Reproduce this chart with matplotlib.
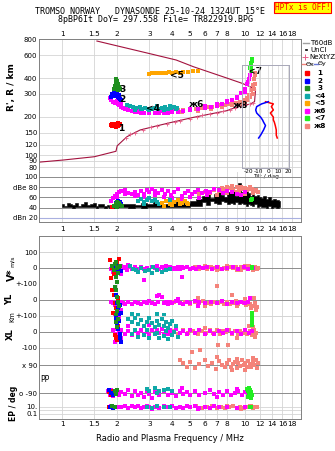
import matplotlib
matplotlib.use("Agg")
import matplotlib.pyplot as plt
from matplotlib.lines import Line2D
from matplotlib.ticker import NullLocator

W, H = 335, 451

FREQ_TICKS = [1, 1.5, 2, 3, 4, 5, 6, 7, 8, 10, 12, 14, 16, 18]
FREQ_TICKS_MID = [1, 1.5, 2, 3, 4, 5, 6, 7, 8, 9, 10, 12, 14, 16, 18]
HEIGHT_TICKS = [80, 90, 100, 120, 150, 200, 300, 400, 600, 800]
DB_TICKS = [20, 40, 60, 80, 100]
DB_LABELS = ["dBn 20", "40", "60", "dBe 80", "100"]
TILT_TICKS = [-20, -10, 0, 10, 20]

# colours of the echo traces 1..8
C1, C2, C3, C4 = "#ff0000", "#0000ff", "#1f8f1f", "#10a8a8"
C5, C6, C7, C8 = "#ffa500", "#ff00ff", "#22ee22", "#f4837a"
PROFILE_COLOR = "#a3123e"
NEXT_COLOR = "#e8608a"
TRACE_TAGS = ["1", "2", "3", "<4", "<5", "ж6", "<7", "ж8"]
TAG_POS = [(2.1, 162), (2.14, 272), (2.15, 326), (3.15, 232), (4.24, 416),
           (5.44, 248), (11.3, 450), (9.4, 246)]

# real height profile (f MHz, h km)
PROFILE_LOW = [(0.75, 88), (1.02, 91.5), (1.5, 97), (1.97, 107), (2.0, 118),
               (2.26, 139), (2.67, 157), (3.29, 169), (3.89, 179), (5.22, 197),
               (7.93, 222), (9.39, 242), (10.65, 250), (11.26, 261), (11.4, 322)]
PROFILE_HIGH = [(1.55, 778), (2.0, 713), (3.0, 621), (4.2, 553), (5.22, 490),
                (7.93, 400), (9.6, 364), (10.65, 342), (11.2, 328)]
NEXT_PTS = [(2.24, 137), (2.35, 145), (2.5, 150), (2.77, 158), (3.05, 165),
            (3.3, 170), (3.75, 176), (4.14, 181), (4.42, 185), (5.0, 193),
            (5.46, 200), (5.82, 205), (6.44, 211), (7.0, 215), (7.6, 219),
            (8.3, 226), (8.8, 232), (9.4, 242), (10.0, 246), (10.65, 250), (11.1, 256)]

# virtual height traces
T1_H = [(1.84, 172), (1.87, 174), (1.9, 171), (1.92, 176), (1.95, 173), (1.97, 170),
        (2.0, 175), (2.02, 178), (2.05, 172), (2.08, 176), (1.88, 168), (1.93, 169),
        (1.98, 167), (2.03, 170), (2.06, 174)]
T2_H = [(1.86, 285), (1.88, 300), (1.92, 305), (1.95, 290), (1.97, 310), (2.0, 300),
        (2.02, 285), (2.05, 295), (2.08, 275), (2.1, 268), (1.9, 292), (1.99, 320), (2.04, 280)]
T3_H = [(1.93, 330), (1.96, 350), (1.98, 365), (2.0, 380), (2.02, 360), (2.04, 340),
        (1.97, 395), (2.01, 320), (2.06, 330), (1.95, 345)]
T4_H = [(2.25, 245), (2.35, 240), (2.45, 238), (2.55, 232), (2.65, 236), (2.75, 230),
        (2.85, 234), (2.95, 228), (3.1, 230), (3.2, 235), (3.35, 228), (3.5, 232),
        (3.65, 236), (3.8, 230), (3.95, 234), (4.1, 238), (4.25, 232), (2.5, 226),
        (2.7, 228), (3.0, 224), (3.3, 240), (3.6, 226), (3.9, 242), (4.2, 228)]
T5_H = [(3.0, 432), (3.1, 435), (3.2, 438), (3.3, 436), (3.4, 440), (3.5, 437),
        (3.6, 441), (3.7, 438), (3.85, 442), (4.0, 440), (4.2, 444), (4.4, 441),
        (4.6, 446), (4.9, 444), (5.2, 450), (5.5, 452)]
T6_H = [(1.82, 280), (1.85, 270), (1.87, 290), (1.9, 262), (1.95, 255), (2.0, 265),
        (2.02, 250), (2.05, 245), (2.1, 238), (2.15, 232), (2.2, 228), (2.3, 224),
        (2.4, 220), (2.5, 218), (2.6, 216), (2.7, 215), (2.8, 214), (3.0, 213),
        (3.2, 213), (3.4, 214), (3.6, 214), (3.8, 215), (4.0, 216), (4.3, 218),
        (4.6, 220), (5.0, 223), (5.5, 228), (6.0, 233), (6.5, 238), (7.0, 243),
        (7.5, 249), (8.0, 258), (8.5, 270), (9.0, 285), (9.5, 305), (10.0, 330),
        (10.3, 360), (10.5, 390), (10.7, 420), (10.8, 450), (2.1, 250), (2.3, 235),
        (2.6, 225), (3.0, 222), (3.5, 220), (4.0, 222), (5.0, 230), (6.0, 240),
        (7.0, 250), (8.0, 264), (9.0, 278), (10.0, 310), (10.4, 375)]
T7_H = [(10.7, 480), (10.75, 500), (10.8, 520), (10.85, 540), (10.9, 560), (10.8, 470), (10.75, 455)]
T8_H = [(3.6, 222), (3.8, 224), (4.0, 224), (4.3, 225), (4.6, 226), (5.0, 228),
        (5.4, 230), (5.8, 233), (6.2, 236), (6.6, 238), (7.0, 241), (7.4, 244),
        (7.8, 247), (8.2, 250), (8.6, 253), (9.0, 256), (9.4, 260), (9.8, 268),
        (10.2, 280), (10.5, 295), (10.8, 320), (11.0, 350), (11.2, 390), (11.3, 420),
        (11.35, 440), (4.5, 218), (5.5, 222), (6.5, 230), (7.5, 238), (8.5, 246),
        (9.5, 252), (10.0, 262), (10.4, 270), (10.7, 285), (11.0, 300), (11.2, 330), (11.3, 360)]

# tilt inset
THETA_H = [261, 251, 239, 225, 213, 198, 188, 181, 170, 157, 143, 136]
THETA_X = [-3, 5, 3, 5, 2, 5, 5, 6, 7, 8, 8, 9]
THETA_Y = [0, -7, -12, -13, -12, -8, -6, -5, -3, -5, -8, -10]

# amplitude panel
UNCL_F = [1.0, 1.04, 1.08, 1.12, 1.16, 1.2, 1.25, 1.3, 1.35, 1.4, 1.45, 1.5, 1.55,
          1.6, 1.66, 1.72, 1.78, 1.84, 1.9, 1.96, 2.05, 2.2, 2.4, 2.6, 2.8, 3.0, 3.3,
          3.6, 4.0, 4.4, 4.8, 5.2, 5.6, 6.0, 6.3, 6.6, 6.9, 7.2, 7.5, 7.8, 8.1, 8.4,
          8.7, 9.0, 9.3, 9.6, 9.9, 10.2, 10.5, 10.8, 11.1, 11.4, 11.7, 12.0, 12.4,
          12.8, 13.2, 13.6, 14.0, 14.5, 15.0, 15.5]
UNCL_HI = [47, 44, 49, 46, 45, 48, 44, 47, 50, 45, 46, 48, 44, 46, 47, 43, 45, 44,
           46, 45, 48, 46, 47, 45, 49, 47, 50, 46, 48, 52, 49, 53, 56, 62, 70, 58, 66,
           72, 64, 60, 70, 68, 74, 62, 88, 70, 66, 74, 68, 63, 66, 62, 64, 60, 58, 62,
           57, 60, 55, 57, 54, 52]
UNCL_LO = [41, 41, 42, 41, 40, 42, 41, 41, 42, 41, 41, 42, 40, 41, 42, 40, 41, 40,
           41, 40, 41, 41, 40, 41, 40, 41, 42, 41, 41, 42, 41, 43, 44, 50, 45, 52, 48,
           46, 52, 50, 47, 49, 46, 50, 47, 48, 46, 44, 47, 45, 44, 46, 42, 43, 41, 42,
           40, 43, 40, 41, 40, 42]
T1_DB = [(1.88, 42), (1.92, 44), (1.95, 43)]
T2_DB = [(1.98, 48), (2.02, 52), (2.06, 50), (2.1, 46)]
T3_DB = [(1.92, 44), (1.96, 46), (2.0, 50), (2.04, 48), (2.08, 45), (2.12, 43), (2.0, 42)]
T4_DB = [(2.6, 52), (2.7, 56), (2.8, 50), (2.9, 54), (3.0, 58), (3.1, 52), (3.2, 55),
         (3.3, 50), (3.5, 48), (3.7, 52), (3.9, 54), (2.8, 46), (3.4, 47)]
T5_DB = [(3.5, 48), (3.7, 52), (3.9, 46), (4.1, 50), (4.3, 54), (4.5, 48), (4.7, 52),
         (4.9, 46), (3.6, 44), (4.0, 45), (4.4, 47), (4.8, 49)]
T6_DB = [(1.85, 52), (1.9, 58), (1.95, 62), (2.0, 66), (2.05, 70), (2.1, 72), (2.2, 74),
         (2.3, 68), (2.4, 66), (2.5, 70), (2.6, 64), (2.7, 72), (2.8, 66), (2.9, 74),
         (3.0, 70), (3.1, 76), (3.2, 72), (3.35, 68), (3.5, 74), (3.65, 66), (3.8, 72),
         (3.95, 64), (4.1, 70), (4.3, 76), (4.5, 62), (4.7, 68), (4.9, 72), (5.1, 66),
         (5.3, 70), (5.5, 74), (5.8, 68), (6.1, 72), (6.4, 70), (6.8, 76), (7.2, 74),
         (7.6, 68), (8.0, 72), (8.5, 70), (9.0, 66), (9.5, 64), (10.0, 70), (2.0, 60),
         (2.2, 66), (2.5, 62), (2.8, 60), (3.2, 64), (3.6, 60), (4.0, 58), (4.5, 56),
         (5.0, 60), (5.6, 58), (6.2, 64)]
T7_DB = [(10.8, 54), (10.9, 56)]
T8_DB = [(5.6, 66), (6.0, 70), (6.4, 68), (6.8, 74), (7.2, 72), (7.6, 76), (8.0, 80),
         (8.3, 78), (8.6, 74), (9.0, 80), (9.3, 72), (9.6, 76), (10.0, 78), (10.3, 74),
         (10.6, 80), (10.9, 76), (11.2, 72), (11.5, 74), (11.8, 70), (7.0, 64), (8.0, 68),
         (9.0, 70), (10.0, 66), (11.0, 68), (7.5, 78), (8.5, 82), (9.5, 80), (10.5, 76)]

# V* (m/s)
T1_V = [(1.83, 50), (1.86, -60), (1.9, 10), (1.93, -40), (1.97, -20), (2.0, 30), (2.04, 58), (1.88, 0), (1.95, 20)]
T2_V = [(1.95, 5), (1.98, -15), (2.02, -30), (2.05, 10), (2.1, -20), (2.0, -5)]
T3_V = [(1.88, 10), (1.92, -10), (1.95, 25), (1.98, 40), (2.01, -30), (2.04, 5), (2.07, 15),
        (1.96, -55), (2.0, -90), (1.99, 0)]
T4_V = [(2.35, 15), (2.45, -5), (2.55, -15), (2.7, 0), (2.85, -20), (3.0, -10), (3.15, 5),
        (3.3, -15), (3.5, -25), (3.7, -10), (2.6, -28), (3.1, -30), (3.9, -5)]
T6_V = [(1.85, -5), (1.9, 10), (1.95, -12), (2.0, 5), (2.05, -8), (2.1, 12), (2.15, -3),
        (2.2, 8), (2.25, -10), (2.3, 4), (2.4, -6), (2.5, 7), (2.6, -4), (2.7, 9), (2.8, -8),
        (2.9, 3), (3.0, -10), (3.1, 6), (3.2, -2), (3.3, 8), (3.4, -9), (3.5, 4), (3.6, -6),
        (3.7, 10), (3.8, -3), (3.9, 7), (4.0, -8), (4.1, 2), (4.2, -5), (4.3, 9), (4.4, -7),
        (4.5, 4), (4.6, -2), (4.8, 6), (5.0, -4), (5.2, 3), (5.4, -8), (5.6, 5), (5.9, -3),
        (6.2, 7), (6.6, -6), (7.0, 4), (7.5, -9), (8.0, 3), (8.6, 5), (9.2, -4), (9.8, 8),
        (10.4, -6), (11.0, 2), (1.9, -25), (2.1, -40), (2.3, 20), (2.8, -75), (4.5, -55), (3.3, 15)]
T7_V = [(10.85, 5), (10.9, -3)]
T8_V = [(5.0, -4), (5.3, 6), (5.6, -8), (5.9, 3), (6.2, -5), (6.5, 8), (6.8, -3), (7.1, 5),
        (7.4, -7), (7.7, 2), (8.0, -5), (8.3, 7), (8.6, -2), (8.9, 4), (9.2, -8), (9.5, 6),
        (9.8, -3), (10.1, 8), (10.4, -6), (10.7, 3), (11.0, -9), (11.3, 5), (11.6, -4),
        (11.8, 2), (6.0, 10), (7.0, -10), (8.0, 10), (9.0, -10), (10.0, 12), (11.0, -12),
        (10.5, 14), (9.5, -12)]

# YL (km)
T1_YL = [(1.88, 60), (1.92, 30), (1.95, -20), (1.98, -50), (2.02, 10), (1.9, -80), (2.0, -90)]
T2_YL = [(1.97, 30), (2.0, -20), (2.03, -50), (2.07, -30), (2.1, -80), (2.05, -95)]
T3_YL = [(1.95, 80), (1.98, 60), (2.0, 20), (2.03, -10), (2.05, -40), (2.0, -70), (1.97, -95)]
T4_YL = [(2.4, -90), (2.6, -95), (3.3, -85), (3.6, -92)]
T6_YL = [(1.85, -10), (1.9, -20), (1.95, -30), (2.0, -15), (2.05, -25), (2.1, -12), (2.15, -20),
         (2.2, -28), (2.3, -15), (2.4, -22), (2.5, -10), (2.6, -18), (2.7, -25), (2.8, -12),
         (2.9, -20), (3.0, -8), (3.1, -16), (3.2, -24), (3.3, 25), (3.4, 30), (3.5, 20),
         (3.35, -12), (3.6, -18), (3.7, -10), (3.8, -22), (3.9, -14), (4.0, -20), (4.2, -8),
         (4.4, -16), (4.6, -24), (4.8, -12), (5.0, -18), (5.3, -6), (5.6, -14), (6.0, -20),
         (6.5, -10), (7.0, -16), (7.5, -8), (8.0, -22), (8.5, -14), (9.0, -18), (9.5, -10),
         (10.0, -20), (10.4, -12), (10.6, 15), (2.0, -50), (2.05, -70), (1.95, -85),
         (2.1, -60), (4.3, 5), (5.5, -35)]
T7_YL = [(10.85, -80), (10.9, -90), (10.85, -100)]
T8_YL = [(4.1, -10), (4.4, -20), (4.7, -15), (5.0, -25), (5.3, -12), (5.6, -20), (5.9, -8),
         (6.2, -18), (6.5, -26), (6.8, -12), (7.1, -20), (7.4, -10), (7.7, -22), (8.0, -14),
         (8.3, -28), (8.6, -16), (8.9, -8), (9.2, -24), (9.5, -12), (9.8, -20), (10.1, -30),
         (10.4, -16), (10.7, -24), (11.0, -35), (11.3, -20), (11.6, -45), (11.4, -60),
         (11.2, 10), (7.0, 85), (8.5, 30), (10.0, 5), (5.5, 15), (6.0, -40), (9.0, -40), (10.8, -50)]

# XL (km)
T1_XL = [(1.95, -20), (1.98, -35), (2.0, -50), (2.03, -30), (2.05, -45), (1.97, 75), (2.02, 40)]
T2_XL = [(1.97, 87), (2.0, 50), (2.03, 20), (2.06, -10), (2.08, -40), (2.1, -62), (2.05, 70)]
T3_XL = [(1.98, 60), (2.0, 30), (2.02, 80)]
T4_XL = [(2.3, 80), (2.4, 60), (2.5, 90), (2.6, 50), (2.7, 75), (2.8, 40), (2.9, 65), (3.0, 85),
         (3.1, 55), (3.2, 30), (3.3, 70), (3.4, 45), (3.5, 80), (3.6, 35), (3.7, 60), (3.8, 25),
         (3.9, 50), (4.0, 70), (4.2, 40), (2.4, -10), (2.6, -30), (2.8, -20), (3.0, -40),
         (3.2, -15), (3.4, -35), (3.6, -25), (3.8, -45), (4.0, -20), (4.3, -30), (2.5, 15),
         (2.9, 10), (3.3, -5), (3.7, 5), (4.1, 0)]
T6_XL = [(1.9, 10), (1.95, -15), (2.0, 20), (2.05, -5), (2.1, 12), (2.2, -10), (2.3, 5),
         (2.4, -18), (2.5, 8), (2.6, -6), (2.7, 15), (2.8, -12), (2.9, 3), (3.0, -20), (3.1, 10),
         (3.2, -8), (3.3, 14), (3.4, -4), (3.5, 18), (3.6, -14), (3.7, 6), (3.8, -10), (3.9, 12),
         (4.0, -2), (4.2, 16), (4.4, -8), (4.6, 6), (4.8, -14), (5.0, 10), (5.3, -6), (5.6, 12),
         (6.0, -10), (6.4, 4), (6.8, -12), (7.2, 8), (7.6, -4), (8.0, 14), (8.5, -8), (9.0, 6),
         (9.5, -10), (10.0, 10), (10.5, -6), (10.9, 4), (2.0, 60), (2.05, 90), (1.95, -60),
         (2.1, -40), (2.3, 40), (3.0, 45)]
T7_XL = [(10.85, 100), (10.9, 80), (10.85, 60), (10.9, 45)]
T8_XL = [(4.0, 5), (4.3, -10), (4.6, 12), (4.9, -6), (5.2, 8), (5.5, -14), (5.8, 4), (6.1, -8),
         (6.4, 14), (6.7, -4), (7.0, 10), (7.3, -12), (7.6, 6), (7.9, -2), (8.2, 12), (8.5, -10),
         (8.8, 4), (9.1, -14), (9.4, 8), (9.7, -6), (10.0, 14), (10.3, -10), (10.6, 6),
         (10.9, -16), (11.2, 10), (11.5, -8), (11.3, -30), (11.0, 30), (5.1, -123), (5.7, -112),
         (7.1, -81), (8.1, -81), (9.0, -40), (6.0, 25), (10.5, 35)]

# PP (deg)
T1_PP = [(1.8, -85), (1.84, -100), (1.88, -75), (1.92, -95)]
T2_PP = [(1.8, -70), (1.84, -90), (1.9, -105)]
T3_PP = [(1.95, -80), (1.98, -95), (2.0, -70)]
T4_PP = [(2.9, -65), (3.0, -75), (3.2, -60), (3.4, -80), (3.6, -70), (3.8, -62), (4.0, -78), (3.3, -90)]
T6_PP = [(1.78, -80), (1.82, -100), (1.86, -70), (1.9, -110), (1.95, -90), (2.0, -75),
         (2.05, -105), (2.1, -85), (2.2, -95), (2.3, -70), (2.4, -110), (2.5, -80), (2.6, -100),
         (2.7, -90), (2.8, -115), (2.9, -75), (3.0, -95), (3.2, -85), (3.4, -105), (3.6, -80),
         (3.8, -100), (4.0, -90), (4.2, -110), (4.4, -75), (4.6, -95), (4.8, -85), (5.0, -105),
         (5.3, -80), (5.6, -100), (6.0, -90), (6.4, -70), (6.8, -95), (7.2, -85), (7.6, -105),
         (8.0, -80), (8.4, -100), (8.8, -90), (9.2, -75), (9.6, -100), (10.0, -85),
         (10.4, -110), (10.6, -95), (4.5, -60), (7.0, -115), (9.0, -65), (3.1, -120)]
T7_PP = [(10.3, -65), (10.4, -80), (10.5, -95), (10.6, -110), (10.7, -70), (10.8, -85),
         (10.9, -100), (10.35, -115), (10.55, -60), (10.75, -120)]
T8_PP = [(4.4, 120), (4.6, 100), (4.8, 80), (5.0, 110), (5.3, 70), (5.6, 95), (6.0, 125),
         (6.3, 85), (6.6, 105), (6.9, 65), (7.2, 115), (7.5, 90), (7.8, 75), (8.0, 100),
         (8.2, 120), (8.4, 80), (8.6, 95), (8.8, 110), (9.0, 70), (9.2, 100), (9.4, 85),
         (9.6, 125), (9.8, 90), (10.0, 105), (10.2, 75), (10.4, 115), (10.6, 95), (10.8, 80),
         (11.0, 110), (11.2, 90), (11.4, 120), (11.6, 70), (11.8, 100), (9.0, 130), (10.0, 60),
         (8.5, 55), (7.0, 140), (11.0, 135)]

# EP (deg)
T1_EP = [(1.8, 8), (1.85, 12)]
T2_EP = [(1.82, 10), (1.9, 7)]
T3_EP = [(1.88, 14), (1.95, 9)]
T4_EP = [(2.9, 10), (3.1, 6), (3.3, 14), (3.6, 8), (3.9, 12)]
T6_EP = [(1.8, 10), (1.85, 15), (1.9, 6), (2.0, 12), (2.1, 8), (2.2, 20), (2.3, 5), (2.4, 14),
         (2.5, 9), (2.6, 18), (2.7, 6), (2.8, 11), (2.9, 25), (3.0, 8), (3.2, 13), (3.4, 5),
         (3.6, 16), (3.8, 9), (4.0, 22), (4.2, 7), (4.4, 12), (4.6, 4), (4.8, 15), (5.0, 9),
         (5.3, 18), (5.6, 6), (6.0, 11), (6.4, 5), (6.8, 14), (7.2, 8), (8.0, 10), (9.0, 6),
         (10.0, 12), (10.8, 8), (3.1, 3), (5.5, 3)]
T7_EP = [(10.6, 10), (10.8, 12)]
T8_EP = [(5.0, 8), (5.4, 14), (5.8, 5), (6.2, 10), (6.6, 18), (7.0, 6), (7.4, 12), (7.8, 4),
         (8.2, 9), (8.6, 16), (9.0, 7), (9.4, 12), (9.8, 5), (10.2, 10), (10.6, 15), (11.0, 6),
         (11.3, 11), (11.6, 8), (8.0, 20), (9.5, 3), (10.8, 22)]

GRID = "#d4d4d4"
DARK_GRID = "#8c8c8c"
SPINE = "#808080"

plt.rcParams["font.family"] = "DejaVu Sans"
plt.rcParams["font.size"] = 5.5


def px_rect(x0, y0, x1, y1):
    return [x0 / W, 1 - y1 / H, (x1 - x0) / W, (y1 - y0) / H]


def freq_axis(ax, ticks, where=None, pad=1.5):
    ax.set_xscale("log")
    ax.set_xlim(0.748, 20.2)
    ax.xaxis.set_minor_locator(NullLocator())
    for t in ticks:
        ax.axvline(t, color=GRID, lw=0.6, zorder=0)
    if where is None:
        ax.set_xticks([])
        return
    ax.set_xticks(ticks)
    ax.set_xticklabels([f"{t:g}" for t in ticks])
    if where == "top":
        ax.xaxis.tick_top()
    ax.tick_params(axis="x", length=0, pad=pad, labelsize=5.3)


def frame(ax, top=True, bottom=True):
    for sp in ax.spines.values():
        sp.set_color(SPINE)
        sp.set_linewidth(0.7)
    ax.spines["top"].set_visible(top)
    ax.spines["bottom"].set_visible(bottom)
    ax.patch.set_alpha(0)
    ax.tick_params(axis="y", length=0, pad=1.2, labelsize=5.0)


def dots(ax, pts, color, s=7, z=3):
    f, v = zip(*pts)
    ax.scatter(f, v, s=s, marker="s", color=color, linewidths=0, zorder=z, clip_on=False)


def hlines(ax, vals, color, lw=0.7):
    for v in vals:
        ax.axhline(v, color=color, lw=lw, zorder=0.5)


fig = plt.figure(figsize=(W / 100, H / 100), dpi=100)

# ---- height panel
ax = fig.add_axes(px_rect(39, 39, 301, 172))
ax.set_yscale("log")
ax.set_ylim(73.7, 807)
ax.yaxis.set_minor_locator(NullLocator())
ax.set_yticks(HEIGHT_TICKS)
ax.set_yticklabels([str(t) for t in HEIGHT_TICKS])
freq_axis(ax, FREQ_TICKS, "top", pad=1.5)
frame(ax, bottom=False)
hlines(ax, HEIGHT_TICKS, GRID, 0.6)

ax.plot(*zip(*PROFILE_LOW), color=PROFILE_COLOR, lw=0.8, zorder=2)
ax.plot(*zip(*PROFILE_HIGH), color=PROFILE_COLOR, lw=0.8, zorder=2)
ax.scatter(*zip(*NEXT_PTS), marker="+", s=10, color=NEXT_COLOR, linewidths=0.6, zorder=2.5)

for pts, c in [(T8_H, C8), (T6_H, C6), (T4_H, C4), (T5_H, C5), (T1_H, C1),
               (T2_H, C2), (T3_H, C3), (T7_H, C7)]:
    dots(ax, pts, c, s=8)
for tag, (f, h) in zip(TRACE_TAGS, TAG_POS):
    ax.text(f, h, tag, fontsize=6.5, fontweight="bold", ha="center", va="center", zorder=5)

# ---- tilt inset
axi = fig.add_axes(px_rect(242, 65, 289, 168))
axi.patch.set_alpha(0)
axi.set_yscale("log")
axi.set_ylim(79.3, 505)
axi.set_yticks([])
axi.yaxis.set_minor_locator(NullLocator())
axi.set_xlim(-27, 21)
axi.set_xticks(TILT_TICKS)
axi.set_xticklabels([str(t) for t in TILT_TICKS])
axi.tick_params(axis="x", length=0, pad=0.5, labelsize=4.2)
axi.set_xlabel("Tilt / deg", fontsize=4.2, labelpad=0)
for t in TILT_TICKS:
    axi.axvline(t, color=GRID, lw=0.5, zorder=0)
for sp in axi.spines.values():
    sp.set_color("#a8a8b8")
    sp.set_linewidth(0.7)
axi.plot(THETA_X, THETA_H, color=C1, lw=1.1)
axi.plot(THETA_Y, THETA_H, color=C2, lw=1.1)

# ---- amplitude panel
axd = fig.add_axes(px_rect(39, 172, 301, 222))
axd.set_ylim(11.6, 109.8)
axd.set_yticks(DB_TICKS)
axd.set_yticklabels(DB_LABELS)
freq_axis(axd, FREQ_TICKS_MID, "bottom", pad=3.0)
frame(axd, top=False)
hlines(axd, DB_TICKS[1:], DARK_GRID, 0.7)
axd.axhline(DB_TICKS[0], color="#a9b0e0", lw=0.8, zorder=0.5)
axd.fill_between(UNCL_F, UNCL_LO, UNCL_HI, step="mid", color="black", lw=0.4, zorder=1)
for pts, c in [(T8_DB, C8), (T6_DB, C6), (T4_DB, C4), (T5_DB, C5), (T1_DB, C1),
               (T2_DB, C2), (T3_DB, C3), (T7_DB, C7)]:
    dots(axd, pts, c, s=6)

# ---- lower panels
axv = fig.add_axes(px_rect(39, 236, 301, 284))
axyl = fig.add_axes(px_rect(39, 284, 301, 316))
axxl = fig.add_axes(px_rect(39, 316, 301, 356))
axpp = fig.add_axes(px_rect(39, 356, 301, 400))
axep = fig.add_axes(px_rect(39, 400, 301, 419))

axv.set_ylim(-100, 200)
axv.set_yticks([100, 0, -100])
axv.set_yticklabels(["100", "0", "+-100"])
axyl.set_ylim(-100, 100)
axyl.set_yticks([0])
axyl.set_yticklabels(["0"])
axxl.set_ylim(-150, 100)
axxl.set_yticks([100, 0, -100])
axxl.set_yticklabels(["+-100", "0", "-100"])
axpp.set_ylim(-135, 148)
axpp.set_yticks([90, -90])
axpp.set_yticklabels(["x 90", "o -90"])
axep.set_yscale("log")
axep.set_ylim(0.0037, 1000)
axep.yaxis.set_minor_locator(NullLocator())
axep.set_yticks([10, 0.1])
axep.set_yticklabels(["10.", "0.1"])

lower = [axv, axyl, axxl, axpp, axep]
for i, a in enumerate(lower):
    frame(a, top=(i == 0), bottom=(i == len(lower) - 1))
    freq_axis(a, FREQ_TICKS, "bottom" if i == len(lower) - 1 else None, pad=1.8)

hlines(axv, [100, -100], GRID)
hlines(axv, [0], DARK_GRID)
hlines(axyl, [0], DARK_GRID)
hlines(axxl, [100, -100], GRID)
hlines(axxl, [0], DARK_GRID)
hlines(axpp, [90, -90], DARK_GRID)
hlines(axep, [10, 1, 0.1], GRID, 0.6)

panels = [
    (axv, [T8_V, T6_V, T4_V, T1_V, T2_V, T3_V, T7_V]),
    (axyl, [T8_YL, T6_YL, T4_YL, T1_YL, T2_YL, T3_YL, T7_YL]),
    (axxl, [T8_XL, T6_XL, T4_XL, T1_XL, T2_XL, T3_XL, T7_XL]),
    (axpp, [T8_PP, T6_PP, T4_PP, T1_PP, T2_PP, T3_PP, T7_PP]),
    (axep, [T8_EP, T6_EP, T4_EP, T1_EP, T2_EP, T3_EP, T7_EP]),
]
colors = [C8, C6, C4, C1, C2, C3, C7]
for a, series in panels:
    for pts, c in zip(series, colors):
        dots(a, pts, c, s=8)

axep.set_xlabel("Radio and Plasma Frequency / MHz", fontsize=6, labelpad=5)

# ---- axis titles
fig.text(12 / W, 1 - 87 / H, "R', R / km", rotation=90, ha="center", va="center",
         fontsize=6.5, fontweight="bold")
fig.text(12 / W, 1 - 275 / H, "V*", rotation=90, ha="center", va="center",
         fontsize=7, fontweight="bold")
fig.text(12 / W, 1 - 261 / H, "m/s", rotation=90, ha="center", va="center", fontsize=4.5)
fig.text(10 / W, 1 - 299 / H, "YL", rotation=90, ha="center", va="center",
         fontsize=6, fontweight="bold")
fig.text(12 / W, 1 - 316.5 / H, "Km", rotation=90, ha="center", va="center", fontsize=4.8)
fig.text(10 / W, 1 - 334 / H, "XL", rotation=90, ha="center", va="center",
         fontsize=6, fontweight="bold")
fig.text(13 / W, 1 - 403 / H, "EP / deg", rotation=90, ha="center", va="center",
         fontsize=5.5, fontweight="bold")
fig.text(45 / W, 1 - 380 / H, "PP", ha="center", va="center", fontsize=5.5)

# ---- header
fig.text(150 / W, 1 - 11.5 / H, "TROMSO NORWAY   DYNASONDE 25-10-24 1324UT 15°E",
         ha="center", va="center", family="DejaVu Sans Mono", fontsize=6)
fig.text(156 / W, 1 - 19.5 / H, "8pBP6It DoY= 297.558 File= TR822919.BPG",
         ha="center", va="center", family="DejaVu Sans Mono", fontsize=6)
fig.text(302.5 / W, 1 - 7.5 / H, "HPTx is OFF!", ha="center", va="center",
         family="DejaVu Sans Mono", fontsize=5.6, color="#ff0000",
         bbox=dict(boxstyle="square,pad=0.15", facecolor="#ffff00", edgecolor="#ff0000", lw=0.8))


# ---- key on the right
def key_line(x0, x1, y, color, **kw):
    fig.add_artist(Line2D([x0 / W, x1 / W], [1 - y / H, 1 - y / H], color=color, **kw))


key_line(303, 309, 43, "#a0a0a0", lw=1)
fig.text(310 / W, 1 - 43 / H, "T60dB", va="center", fontsize=5)
key_line(305.5, 306.5, 50, "black", lw=1.2)
fig.text(310 / W, 1 - 50 / H, "UnCl", va="center", fontsize=5)
fig.add_artist(Line2D([305 / W], [1 - 57 / H], marker="+", ms=4, mew=0.7, color=NEXT_COLOR, ls=""))
fig.text(309 / W, 1 - 57 / H, "NeXtYZ", va="center", fontsize=5)
key_line(302, 306, 64, C8, lw=1)
fig.text(306 / W, 1 - 64 / H, "Θx", va="center", fontsize=4.6)
key_line(314, 318, 64, "#6a7ad8", lw=1)
fig.text(318 / W, 1 - 64 / H, "Θy", va="center", fontsize=4.6)
key_rows = [73.3, 81, 88.3, 96, 103.3, 110.7, 118.3, 126]
for tag, c, y in zip(TRACE_TAGS, [C1, C2, C3, C4, C5, C6, C7, C8], key_rows):
    fig.add_artist(Line2D([306.7 / W], [1 - y / H], marker="s", ms=2.6, color=c, ls=""))
    fig.text(320 / W, 1 - y / H, tag, va="center", ha="center", fontsize=5.2, fontweight="bold")

fig.savefig("out.png", dpi=100)
